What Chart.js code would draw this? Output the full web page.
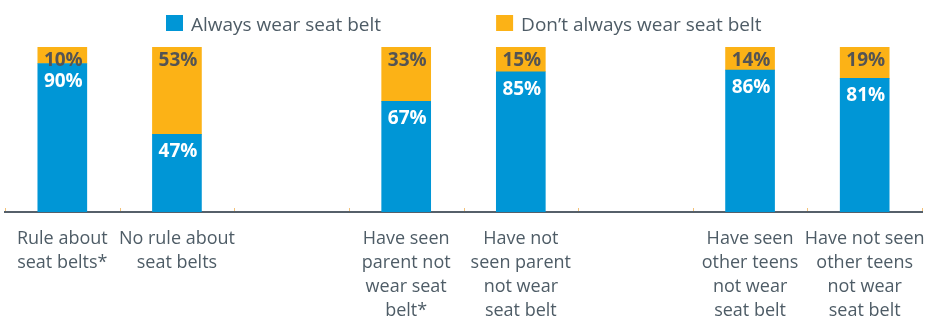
<!DOCTYPE html>
<html>
<head>
<meta charset="utf-8">
<script src="https://cdn.jsdelivr.net/npm/chart.js@4/dist/chart.umd.min.js"></script>
<style>
  html, body { margin: 0; padding: 0; background: #ffffff; }
  #wrap { width: 927px; height: 321px; position: relative; }
</style>
</head>
<body>
<div id="wrap"><canvas id="c" width="927" height="321"></canvas></div>
<script>
// ---- data ----
const categories = [
  ['Rule about', 'seat belts*'],
  ['No rule about', 'seat belts'],
  '',
  ['Have seen', 'parent not', 'wear seat', 'belt*'],
  ['Have not', 'seen parent', 'not wear', 'seat belt'],
  '',
  ['Have seen', 'other teens', 'not wear', 'seat belt'],
  ['Have not seen', 'other teens', 'not wear', 'seat belt']
];
const alwaysWear = [90, 47, null, 67, 85, null, 86, 81];
const notAlwaysWear = [10, 53, null, 33, 15, null, 14, 19];
const seriesNames = ['Always wear seat belt', 'Don\u2019t always wear seat belt'];

// ---- styles ----
const BLUE = '#0096d6';
const ORANGE = '#fcb216';
const TEXT = '#4e5c66';
const FONT = '"Open Sans", "DejaVu Sans", sans-serif';

const labelPlugin = {
  id: 'customDraw',
  afterDatasetsDraw(chart) {
    const ctx = chart.ctx;
    ctx.save();
    ctx.font = 'bold 19px ' + FONT;
    ctx.textAlign = 'center';
    ctx.textBaseline = 'alphabetic';
    chart.data.datasets.forEach((ds, di) => {
      const meta = chart.getDatasetMeta(di);
      meta.data.forEach((el, i) => {
        const v = ds.data[i];
        if (v === null || v === undefined) return;
        const top = Math.min(el.y, el.base);
        const off = di === 0 ? 9 : 5;
        ctx.fillStyle = di === 0 ? '#ffffff' : '#545454';
        ctx.fillText(v + '%', el.x + 1, top + off + 14);
      });
    });
    ctx.restore();
  },
  afterDraw(chart) {
    const ctx = chart.ctx;
    const xs = chart.scales.x;
    // small tick marks at category boundaries
    ctx.save();
    ctx.strokeStyle = '#f3c27a';
    ctx.lineWidth = 1;
    const n = chart.data.labels.length;
    const w = (xs.right - xs.left) / n;
    for (let i = 0; i <= n; i++) {
      const x = Math.round(xs.left + i * w) + 0.5;
      ctx.beginPath();
      ctx.moveTo(x, xs.top - 4);
      ctx.lineTo(x, xs.top - 1);
      ctx.stroke();
    }
    ctx.restore();

    // custom legend
    ctx.save();
    ctx.font = '19px ' + FONT;
    ctx.textBaseline = 'alphabetic';
    ctx.textAlign = 'left';
    const box = 17, boxGap = 8, itemGap = 115;
    const widths = chart.data.datasets.map(d => ctx.measureText(d.label).width);
    const total = widths.reduce((a, b) => a + b, 0) + chart.data.datasets.length * (box + boxGap) + itemGap * (chart.data.datasets.length - 1);
    let x = Math.round(464 - total / 2);
    chart.data.datasets.forEach((d, i) => {
      ctx.fillStyle = d.backgroundColor;
      ctx.fillRect(x, 15, box, 16);
      x += box + boxGap;
      ctx.fillStyle = TEXT;
      ctx.fillText(d.label, x, 31);
      x += widths[i] + itemGap;
    });
    ctx.restore();
  }
};

new Chart(document.getElementById('c'), {
  type: 'bar',
  data: {
    labels: categories,
    datasets: [
      { label: seriesNames[0], data: alwaysWear, backgroundColor: BLUE, barThickness: 49 },
      { label: seriesNames[1], data: notAlwaysWear, backgroundColor: ORANGE, barThickness: 49 }
    ]
  },
  options: {
    responsive: false,
    animation: false,
    layout: { padding: { left: 5, right: 5, top: 47, bottom: 0 } },
    plugins: {
      legend: { display: false },
      tooltip: { enabled: false }
    },
    scales: {
      x: {
        stacked: true,
        grid: { display: true, drawOnChartArea: false, drawTicks: false },
        border: { display: true, color: '#56606a', width: 2 },
        ticks: {
          color: TEXT,
          font: { family: FONT, size: 18, lineHeight: 1.333 },
          padding: 15,
          maxRotation: 0,
          autoSkip: false
        },
        afterFit(scale) {
          scale.height = 109;
          scale.paddingLeft = 0;
          scale.paddingRight = 0;
        }
      },
      y: {
        stacked: true,
        display: false,
        min: 0,
        max: 100
      }
    }
  },
  plugins: [labelPlugin]
});
</script>
</body>
</html>
